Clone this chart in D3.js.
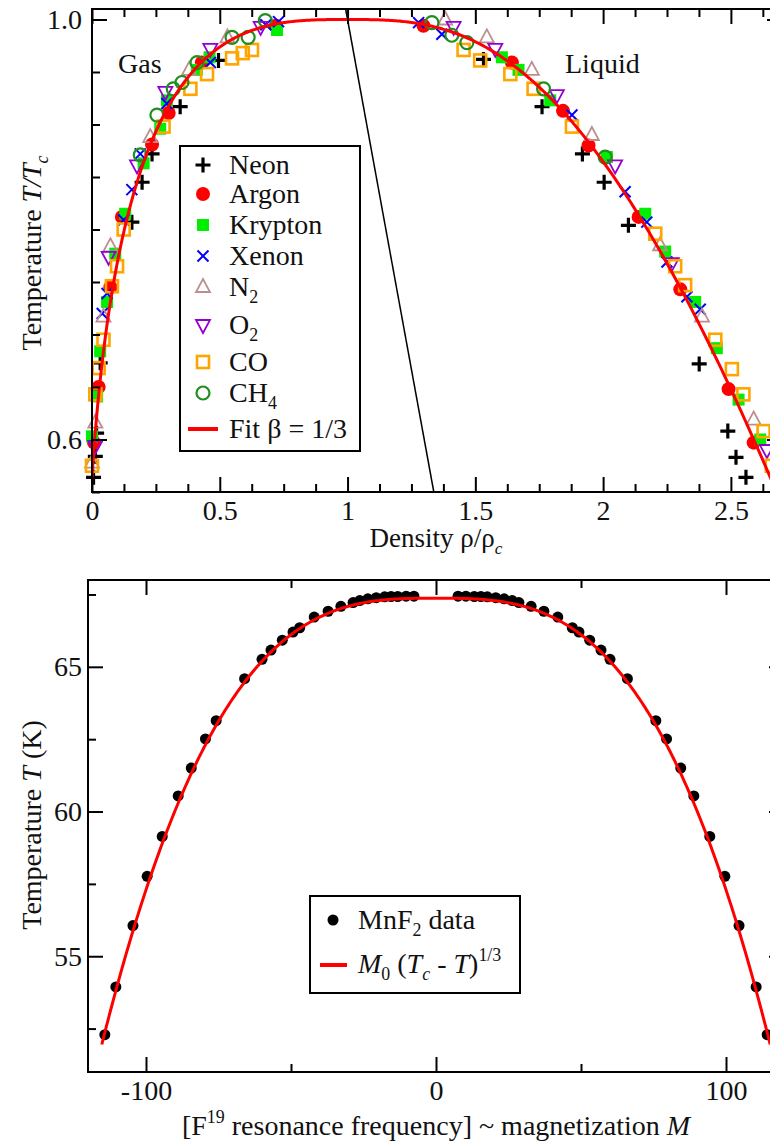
<!DOCTYPE html>
<html>
<head>
<meta charset="utf-8">
<script src="https://cdnjs.cloudflare.com/ajax/libs/d3/7.8.5/d3.min.js"></script>
<style>
  body { margin: 0; background: #fff; }
  svg { display: block; font-family: "Liberation Serif", "DejaVu Serif", serif; }
</style>
</head>
<body>
<svg id="chart" width="770" height="1144"></svg>
<script>
// ---------- top panel: coexistence curves, [rho/rho_c, T/T_c] ----------
const neon = [[0.495,0.961],[0.345,0.917],[0.235,0.872],[0.196,0.845],[0.156,0.807],[0.032,0.673],[0.018,0.606],[0.013,0.584],[0.006,0.564],
  [1.532,0.962],[1.761,0.917],[1.919,0.872],[2.004,0.845],[2.099,0.804],[2.376,0.672],[2.488,0.608],[2.52,0.583],[2.559,0.564]];
const argon = [[0.72,0.994],[0.43,0.959],[0.30,0.911],[0.235,0.881],[0.117,0.812],[0.072,0.745],[0.026,0.65],[0.008,0.597],
  [1.297,0.994],[1.643,0.959],[1.843,0.913],[1.943,0.880],[2.139,0.812],[2.302,0.743],[2.491,0.648],[2.589,0.597]];
const krypton = [[0.724,0.99],[0.46,0.964],[0.41,0.952],[0.293,0.923],[0.267,0.896],[0.202,0.863],[0.13,0.815],[0.091,0.777],[0.059,0.731],[0.032,0.684],[0.02,0.641],[0.0,0.603],
  [1.604,0.964],[1.669,0.952],[1.793,0.923],[2.015,0.869],[2.165,0.815],[2.243,0.779],[2.36,0.731],[2.445,0.687],[2.53,0.638],[2.615,0.6]];
const xenon = [[0.73,0.998],[0.68,0.995],[0.463,0.959],[0.293,0.92],[0.189,0.872],[0.156,0.838],[0.124,0.809],[0.059,0.739],[0.04,0.72],
  [1.278,0.997],[1.369,0.986],[1.878,0.909],[2.086,0.836],[2.171,0.807],[2.25,0.769],[2.328,0.736],[2.38,0.724]];
const nitrogen = [[0.53,0.983],[0.38,0.952],[0.228,0.888],[0.072,0.784],[0.045,0.717],[0.013,0.616],[0.0,0.578],
  [1.382,1.0],[1.545,0.983],[1.721,0.952],[1.956,0.89],[2.223,0.785],[2.387,0.717],[2.589,0.619]];
const oxygen = [[0.66,0.993],[0.463,0.972],[0.287,0.931],[0.176,0.861],[0.065,0.774],[0.013,0.594],
  [1.415,0.993],[1.578,0.972],[1.819,0.928],[2.047,0.861],[2.269,0.768],[2.641,0.59]];
const carbonMonoxide = [[0.626,0.971],[0.59,0.968],[0.548,0.963],[0.45,0.948],[0.385,0.934],[0.28,0.898],[0.124,0.8],[0.098,0.765],[0.078,0.746],[0.045,0.695],[0.026,0.668],[0.013,0.643],[0.0,0.575],
  [1.454,0.971],[1.519,0.961],[1.637,0.948],[1.728,0.934],[1.878,0.898],[2.204,0.796],[2.282,0.765],[2.321,0.747],[2.439,0.695],[2.504,0.667],[2.549,0.643],[2.628,0.608],[2.66,0.575]];
const methane = [[0.678,0.999],[0.611,0.983],[0.548,0.983],[0.411,0.959],[0.352,0.94],[0.318,0.934],[0.254,0.909],[0.189,0.871],
  [1.33,0.997],[1.408,0.985],[1.467,0.978],[1.767,0.934],[2.008,0.869]];

const fitBeta = 1 / 3;        // Guggenheim fit: rho = 1 + 3/4 t +- 7/4 t^beta
const fitSlope = 0.75, fitAmp = 1.75;

const topXTicks = [0, 0.5, 1, 1.5, 2, 2.5];
const topXLabels = ["0", "0.5", "1", "1.5", "2", "2.5"];
const topYTicks = [0.6, 1.0];
const topYLabels = ["0.6", "1.0"];

// ---------- bottom panel: MnF2, |M| and T(K) ----------
const mnf2M = [7.6, 10.3, 13.2, 15.5, 17.7, 20.6, 23.5, 26.3, 28.6, 32.8, 37.2, 42.0, 47.0, 49.3, 53.0, 56.9, 60.0, 66.0, 75.8, 79.5, 84.4, 88.9, 94.4, 99.6, 104.5, 110.4, 114.2];
const mnf2T = [67.44, 67.44, 67.43, 67.43, 67.42, 67.39, 67.35, 67.29, 67.22, 67.09, 66.92, 66.72, 66.35, 66.20, 65.92, 65.58, 65.26, 64.59, 63.14, 62.51, 61.5, 60.54, 59.14, 57.76, 56.06, 53.94, 52.29];
const mnTc = 67.37, mnM0 = 46.3, mnTmin = 51.95;

const botXTicks = [-100, 0, 100];
const botXLabels = ["-100", "0", "100"];
const botYTicks = [55, 60, 65];
const botYLabels = ["55", "60", "65"];

// ---------- drawing ----------
const svg = d3.select("#chart");
const FS = 28;

function rich(sel, parts, size) {
  let shift = 0;
  parts.forEach(p => {
    const target = p.sub ? size * 0.26 : p.sup ? -size * 0.42 : 0;
    sel.append("tspan")
      .attr("dy", target - shift)
      .attr("font-size", (p.sub || p.sup) ? size * 0.64 : size)
      .attr("font-style", p.it ? "italic" : null)
      .text(p.t);
    shift = target;
  });
  return sel;
}

function addAxes(x, y, o) {
  const [x0, x1] = x.range(), [y0, y1] = y.range();
  function one(gen, tr, vals, size, labels, pad) {
    const g = svg.append("g").attr("transform", tr)
      .call(gen.tickValues(vals).tickSize(-size).tickPadding(pad || 0)
        .tickFormat((d, i) => labels ? labels[i] : ""));
    g.attr("font-family", null).attr("font-size", null);
    g.select(".domain").remove();
    g.selectAll("line").attr("stroke", "#000").attr("stroke-width", 2);
    g.selectAll("text").attr("font-size", FS).attr("fill", "#111");
  }
  // majors
  one(d3.axisBottom(x), `translate(0,${y0})`, o.xt, 15, o.xl, o.xpad);
  one(d3.axisTop(x), `translate(0,${y1})`, o.xt, 15);
  one(d3.axisLeft(y), `translate(${x0},0)`, o.yt, 15, o.yl, o.ypad);
  one(d3.axisRight(y), `translate(${x1},0)`, o.yt, 15);
  // minors
  one(d3.axisBottom(x), `translate(0,${y0})`, o.xm, 8);
  one(d3.axisTop(x), `translate(0,${y1})`, o.xm, 8);
  one(d3.axisLeft(y), `translate(${x0},0)`, o.ym, 8);
  one(d3.axisRight(y), `translate(${x1},0)`, o.ym, 8);
  svg.append("rect").attr("x", x0).attr("y", y1)
    .attr("width", x1 - x0).attr("height", y0 - y1)
    .attr("fill", "none").attr("stroke", "#000").attr("stroke-width", 2);
}

const markerPath = {
  plus: "M-7.5,0H7.5M0,-7.5V7.5",
  cross: "M-5.5,-5.5L5.5,5.5M-5.5,5.5L5.5,-5.5",
  triUp: "M0,-8L7,5H-7Z",
  triDown: "M0,8L7,-5H-7Z"
};
function marker(g, kind, color) {
  if (kind === "plus") g.append("path").attr("d", markerPath.plus).attr("stroke", color).attr("stroke-width", 3.2).attr("fill", "none");
  else if (kind === "cross") g.append("path").attr("d", markerPath.cross).attr("stroke", color).attr("stroke-width", 2).attr("fill", "none");
  else if (kind === "dot") g.append("circle").attr("r", 7).attr("fill", color);
  else if (kind === "sq") g.append("rect").attr("x", -6).attr("y", -6).attr("width", 12).attr("height", 12).attr("fill", color);
  else if (kind === "osq") g.append("rect").attr("x", -6).attr("y", -6).attr("width", 12).attr("height", 12).attr("fill", "none").attr("stroke", color).attr("stroke-width", 2.6);
  else if (kind === "ocirc") g.append("circle").attr("r", 6.5).attr("fill", "none").attr("stroke", color).attr("stroke-width", 2.2);
  else g.append("path").attr("d", markerPath[kind]).attr("fill", "none").attr("stroke", color).attr("stroke-width", 1.8);
}

// ===== top panel =====
const xT = d3.scaleLinear().domain([0, 2.7]).range([92, 782]);
const yT = d3.scaleLinear().domain([0.55, 1.01]).range([492, 9]);

svg.append("clipPath").attr("id", "clipTop").append("rect")
  .attr("x", 92).attr("y", 9).attr("width", 690).attr("height", 483);

// rectilinear diameter
svg.append("line")
  .attr("x1", xT(1 + fitSlope * (1 - 1.01))).attr("y1", yT(1.01))
  .attr("x2", xT(1 + fitSlope * (1 - 0.55))).attr("y2", yT(0.55))
  .attr("stroke", "#000").attr("stroke-width", 1.5);

const series = [
  { name: [{ t: "Neon" }], data: neon, kind: "plus", color: "#000" },
  { name: [{ t: "Argon" }], data: argon, kind: "dot", color: "#ff0000" },
  { name: [{ t: "Krypton" }], data: krypton, kind: "sq", color: "#00ee00" },
  { name: [{ t: "Xenon" }], data: xenon, kind: "cross", color: "#0000ff" },
  { name: [{ t: "N" }, { t: "2", sub: true }], data: nitrogen, kind: "triUp", color: "#bc8f8f" },
  { name: [{ t: "O" }, { t: "2", sub: true }], data: oxygen, kind: "triDown", color: "#9400d3" },
  { name: [{ t: "CO" }], data: carbonMonoxide, kind: "osq", color: "#ffa500" },
  { name: [{ t: "CH" }, { t: "4", sub: true }], data: methane, kind: "ocirc", color: "#1f8f1f" }
];

series.forEach(s => {
  svg.append("g").selectAll("g").data(s.data).join("g")
    .attr("transform", d => `translate(${xT(d[0])},${yT(d[1])})`)
    .each(function () { marker(d3.select(this), s.kind, s.color); });
});

// fit curve, parametrised by u = (1 - T/Tc)^beta
const uMax = Math.pow(0.45, fitBeta);
const uVals = d3.range(0, 201).map(i => uMax * i / 200);
const fitPts = uVals.slice().reverse().map(u => [1 + fitSlope * Math.pow(u, 1 / fitBeta) - fitAmp * u, 1 - Math.pow(u, 1 / fitBeta)])
  .concat(uVals.map(u => [1 + fitSlope * Math.pow(u, 1 / fitBeta) + fitAmp * u, 1 - Math.pow(u, 1 / fitBeta)]));
svg.append("path").datum(fitPts)
  .attr("clip-path", "url(#clipTop)")
  .attr("d", d3.line().x(d => xT(d[0])).y(d => yT(d[1])))
  .attr("fill", "none").attr("stroke", "#ff0000").attr("stroke-width", 3);

addAxes(xT, yT, {
  xt: topXTicks, xl: topXLabels, xpad: 8,
  yt: topYTicks, yl: topYLabels, ypad: 10,
  xm: d3.range(0, 22).map(k => k * 0.125).filter(v => v % 0.5 !== 0),
  ym: d3.range(11, 21).map(k => +(k * 0.05).toFixed(2)).filter(v => v !== 0.6 && v !== 1)
});

svg.append("text").attr("x", 118).attr("y", 73).attr("font-size", FS).attr("fill", "#111").text("Gas");
svg.append("text").attr("x", 565).attr("y", 73).attr("font-size", FS).attr("fill", "#111").text("Liquid");

rich(svg.append("text").attr("transform", "translate(41,253) rotate(-90)").attr("text-anchor", "middle").attr("fill", "#111"),
  [{ t: "Temperature " }, { t: "T/T", it: true }, { t: "c", it: true, sub: true }], FS);
rich(svg.append("text").attr("x", 436).attr("y", 547).attr("text-anchor", "middle").attr("fill", "#111"),
  [{ t: "Density ρ/ρ" }, { t: "c", it: true, sub: true }], 27);

// top legend
const legT = svg.append("g");
legT.append("rect").attr("x", 180).attr("y", 146).attr("width", 180).attr("height", 305)
  .attr("fill", "#fff").attr("stroke", "#000").attr("stroke-width", 2);
const rowY = [165, 194, 225, 256, 287, 325, 362, 393, 429];
series.forEach((s, i) => {
  marker(legT.append("g").attr("transform", `translate(203,${rowY[i]})`), s.kind, s.color);
  rich(legT.append("text").attr("x", 229).attr("y", rowY[i] + 9).attr("fill", "#111"), s.name, FS);
});
legT.append("line").attr("x1", 188).attr("x2", 218).attr("y1", rowY[8]).attr("y2", rowY[8])
  .attr("stroke", "#ff0000").attr("stroke-width", 4);
legT.append("text").attr("x", 229).attr("y", rowY[8] + 9).attr("font-size", FS).attr("fill", "#111").text("Fit β = 1/3");

// ===== bottom panel =====
const xB = d3.scaleLinear().domain([-120, 120]).range([88, 784]);
const yB = d3.scaleLinear().domain([51, 68]).range([1072, 580]);

const mnPts = mnf2M.map((m, i) => [-m, mnf2T[i]]).concat(mnf2M.map((m, i) => [m, mnf2T[i]]));
svg.append("g").selectAll("circle").data(mnPts).join("circle")
  .attr("cx", d => xB(d[0])).attr("cy", d => yB(d[1])).attr("r", 5.5).attr("fill", "#000");

const wMax = Math.pow(mnTc - mnTmin, fitBeta);
const mnFit = d3.range(-200, 201).map(i => {
  const w = wMax * i / 200;
  return [mnM0 * w, mnTc - Math.pow(Math.abs(w), 1 / fitBeta)];
});
svg.append("path").datum(mnFit)
  .attr("d", d3.line().x(d => xB(d[0])).y(d => yB(d[1])))
  .attr("fill", "none").attr("stroke", "#ff0000").attr("stroke-width", 3);

addAxes(xB, yB, {
  xt: botXTicks, xl: botXLabels, xpad: 8,
  yt: botYTicks, yl: botYLabels, ypad: 6,
  xm: [-50, 50],
  ym: [52.5, 57.5, 62.5, 67.5]
});

rich(svg.append("text").attr("transform", "translate(41,825) rotate(-90)").attr("text-anchor", "middle").attr("fill", "#111"),
  [{ t: "Temperature " }, { t: "T", it: true }, { t: " (K)" }], FS);
rich(svg.append("text").attr("x", 436).attr("y", 1135).attr("text-anchor", "middle").attr("fill", "#111"),
  [{ t: "[F" }, { t: "19", sup: true }, { t: " resonance frequency] ~ magnetization " }, { t: "M", it: true }], FS);

const legB = svg.append("g");
legB.append("rect").attr("x", 310).attr("y", 896).attr("width", 210).attr("height", 97)
  .attr("fill", "#fff").attr("stroke", "#000").attr("stroke-width", 2);
legB.append("circle").attr("cx", 333).attr("cy", 920).attr("r", 5.5).attr("fill", "#000");
rich(legB.append("text").attr("x", 358).attr("y", 929).attr("fill", "#111"),
  [{ t: "MnF" }, { t: "2", sub: true }, { t: " data" }], FS);
legB.append("line").attr("x1", 320).attr("x2", 347).attr("y1", 965).attr("y2", 965)
  .attr("stroke", "#ff0000").attr("stroke-width", 4);
rich(legB.append("text").attr("x", 358).attr("y", 973).attr("fill", "#111"),
  [{ t: "M", it: true }, { t: "0", sub: true }, { t: " (" }, { t: "T", it: true }, { t: "c", it: true, sub: true },
   { t: " - " }, { t: "T", it: true }, { t: ")" }, { t: "1/3", sup: true }], FS);
</script>
</body>
</html>
